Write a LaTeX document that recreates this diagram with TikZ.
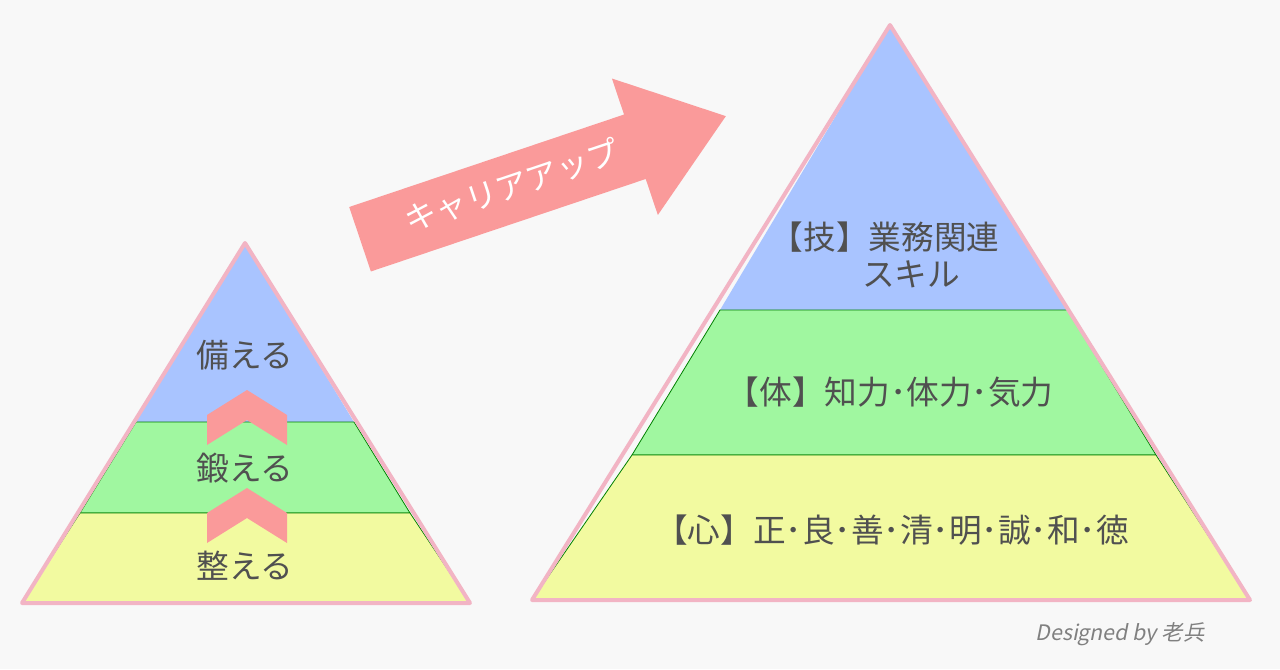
\documentclass[tikz,border=0pt]{standalone}
\usepackage{fontspec}
\setmainfont{Noto Sans CJK JP}
\newfontfamily\sigfont[FakeSlant=0.2]{Noto Sans CJK JP}
\definecolor{bgc}{HTML}{F8F8F8}
\definecolor{topc}{HTML}{A9C4FF}
\definecolor{midc}{HTML}{A0F7A0}
\definecolor{lowc}{HTML}{F2FAA0}
\definecolor{edgec}{HTML}{F2B4C4}
\definecolor{arrc}{HTML}{FA9A9A}
\definecolor{txtc}{HTML}{505050}
\begin{document}
\begin{tikzpicture}[x=0.75pt,y=-0.75pt]
\tikzstyle{band}=[draw=green!50!black,line width=0.6pt]
\tikzstyle{lbl}=[text=txtc,font=\fontsize{24.5}{28}\selectfont]
\tikzstyle{rim}=[draw=edgec,line width=3pt,line join=round]
\fill[bgc] (0,0) rectangle (1280,669);
\useasboundingbox (0,0) rectangle (1280,669);
% small pyramid
\fill[topc] (245,243) -- (354,422) -- (136,422) -- cycle;
\fill[midc,band] (136,422) -- (354,422) -- (410,513) -- (80,513) -- cycle;
\fill[lowc,band] (80,513) -- (410,513) -- (470,603) -- (22,603) -- cycle;
\draw[rim] (245,243) -- (470,603) -- (22,603) -- cycle;
% chevrons
\foreach \y in {390,488}
  \fill[arrc] (207,\y+25) -- (247,\y) -- (287,\y+25) -- (287,\y+55) -- (247,\y+30) -- (207,\y+55) -- cycle;
\node[lbl] (sonae) at (245,355) {備える};
\node[lbl] (kitae) at (245,468) {鍛える};
\node[lbl] (totono) at (245,566) {整える};
% large pyramid
\fill[topc] (890,25) -- (1068,310) -- (720,310) -- cycle;
\fill[midc,band] (720,310) -- (1068,310) -- (1156,455) -- (632,455) -- cycle;
\fill[lowc,band] (632,455) -- (1156,455) -- (1250,600) -- (532,600) -- cycle;
\draw[rim] (890,25) -- (1250,600) -- (532,600) -- cycle;
\node[lbl,align=left] (waza) at (885,255) {【技】業務関連\\\hspace{2.8em}スキル};
\node[lbl] (tai) at (890,392) {【体】知力･体力･気力};
\node[lbl] (kokoro) at (892,530) {【心】正･良･善･清･明･誠･和･徳};
% arrow
\begin{scope}[shift={(542,178)},rotate=18.6]
\fill[arrc] (-192,-34) -- (98,-34) -- (98,-72) -- (194,0) -- (98,72) -- (98,34) -- (-192,34) -- cycle;
\end{scope}
\node[rotate=18.6,text=white,font=\fontsize{24}{28}\selectfont] (uptext) at (512,186) {キャリアアップ};
\node[text=gray,font=\fontsize{16}{18}\sigfont] (sig) at (1120,634) {Designed by 老兵};
\end{tikzpicture}
\end{document}
